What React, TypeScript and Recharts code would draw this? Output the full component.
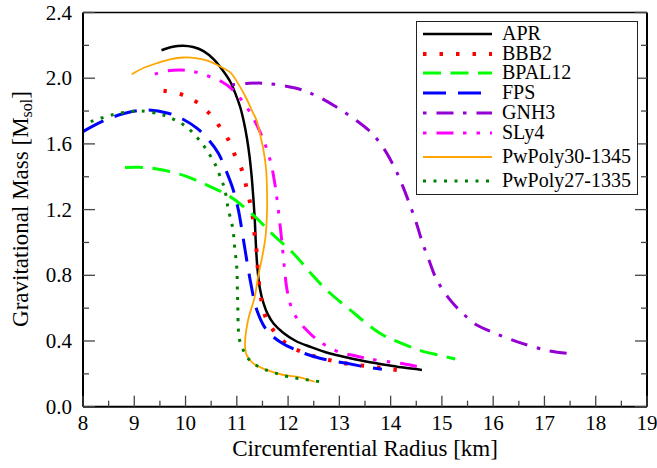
import { LineChart, Line, XAxis, YAxis } from 'recharts';

// mass-radius curves, radius in km, mass in solar masses
const APR = [
  { r: 9.53, m: 2.17 }, { r: 9.75, m: 2.192 }, { r: 9.95, m: 2.198 }, { r: 10.15, m: 2.19 },
  { r: 10.35, m: 2.165 }, { r: 10.55, m: 2.115 }, { r: 10.72, m: 2.05 }, { r: 10.87, m: 1.98 },
  { r: 10.98, m: 1.9 }, { r: 11.07, m: 1.82 }, { r: 11.14, m: 1.73 }, { r: 11.2, m: 1.63 },
  { r: 11.25, m: 1.52 }, { r: 11.29, m: 1.4 }, { r: 11.32, m: 1.28 }, { r: 11.35, m: 1.14 },
  { r: 11.37, m: 1.0 }, { r: 11.4, m: 0.85 }, { r: 11.45, m: 0.72 }, { r: 11.52, m: 0.63 },
  { r: 11.6, m: 0.565 }, { r: 11.72, m: 0.505 }, { r: 11.91, m: 0.449 }, { r: 12.15, m: 0.4 },
  { r: 12.43, m: 0.365 }, { r: 12.8, m: 0.325 }, { r: 13.21, m: 0.295 }, { r: 13.6, m: 0.27 },
  { r: 13.92, m: 0.254 }, { r: 14.25, m: 0.238 }, { r: 14.61, m: 0.224 },
];

const BBB2 = [
  { r: 9.57, m: 1.923 }, { r: 9.89, m: 1.904 }, { r: 10.18, m: 1.862 }, { r: 10.43, m: 1.797 },
  { r: 10.64, m: 1.716 }, { r: 10.83, m: 1.628 }, { r: 10.96, m: 1.533 }, { r: 11.1, m: 1.441 },
  { r: 11.18, m: 1.346 }, { r: 11.26, m: 1.239 }, { r: 11.32, m: 1.137 }, { r: 11.35, m: 1.035 },
  { r: 11.39, m: 0.934 }, { r: 11.41, m: 0.833 }, { r: 11.44, m: 0.731 }, { r: 11.49, m: 0.63 },
  { r: 11.58, m: 0.532 }, { r: 11.76, m: 0.447 }, { r: 12.0, m: 0.376 }, { r: 12.3, m: 0.329 },
  { r: 12.62, m: 0.298 }, { r: 12.95, m: 0.274 }, { r: 13.27, m: 0.256 }, { r: 13.6, m: 0.245 },
  { r: 13.92, m: 0.232 }, { r: 14.25, m: 0.219 },
];

const BPAL12 = [
  { r: 8.82, m: 1.456 }, { r: 9.08, m: 1.458 }, { r: 9.47, m: 1.446 }, { r: 9.99, m: 1.405 },
  { r: 10.48, m: 1.34 }, { r: 10.87, m: 1.279 }, { r: 11.32, m: 1.167 }, { r: 11.71, m: 1.046 },
  { r: 12.1, m: 0.934 }, { r: 12.45, m: 0.81 }, { r: 12.75, m: 0.711 }, { r: 13.21, m: 0.589 },
  { r: 13.79, m: 0.447 }, { r: 14.18, m: 0.39 }, { r: 14.6, m: 0.34 }, { r: 14.95, m: 0.313 },
  { r: 15.26, m: 0.29 },
];

const FPS = [
  { r: 8.0, m: 1.675 }, { r: 8.4, m: 1.74 }, { r: 8.8, m: 1.785 }, { r: 9.24, m: 1.807 },
  { r: 9.66, m: 1.787 }, { r: 9.95, m: 1.75 }, { r: 10.22, m: 1.696 }, { r: 10.45, m: 1.625 },
  { r: 10.64, m: 1.543 }, { r: 10.8, m: 1.43 }, { r: 10.92, m: 1.33 }, { r: 11.03, m: 1.198 },
  { r: 11.13, m: 1.015 }, { r: 11.26, m: 0.772 }, { r: 11.39, m: 0.589 }, { r: 11.58, m: 0.467 },
  { r: 11.84, m: 0.396 }, { r: 12.23, m: 0.335 }, { r: 12.62, m: 0.295 }, { r: 13.14, m: 0.264 },
  { r: 13.5, m: 0.243 }, { r: 13.83, m: 0.228 },
];

const GNH3 = [
  { r: 10.9, m: 1.96 }, { r: 11.2, m: 1.968 }, { r: 11.49, m: 1.97 }, { r: 11.9, m: 1.955 },
  { r: 12.27, m: 1.929 }, { r: 12.6, m: 1.885 }, { r: 12.98, m: 1.817 }, { r: 13.3, m: 1.75 },
  { r: 13.6, m: 1.675 }, { r: 13.85, m: 1.58 }, { r: 14.05, m: 1.472 }, { r: 14.2, m: 1.37 },
  { r: 14.36, m: 1.242 }, { r: 14.5, m: 1.12 }, { r: 14.61, m: 1.009 }, { r: 14.75, m: 0.89 },
  { r: 14.89, m: 0.778 }, { r: 15.16, m: 0.65 }, { r: 15.4, m: 0.57 }, { r: 15.68, m: 0.497 },
  { r: 16.04, m: 0.447 }, { r: 16.46, m: 0.396 }, { r: 17.08, m: 0.341 }, { r: 17.55, m: 0.321 },
];

const SLY4 = [
  { r: 9.4, m: 2.025 }, { r: 9.65, m: 2.045 }, { r: 9.93, m: 2.05 }, { r: 10.2, m: 2.037 },
  { r: 10.45, m: 2.012 }, { r: 10.7, m: 1.98 }, { r: 10.9, m: 1.935 }, { r: 11.19, m: 1.825 },
  { r: 11.45, m: 1.675 }, { r: 11.65, m: 1.502 }, { r: 11.75, m: 1.34 }, { r: 11.82, m: 1.17 },
  { r: 11.88, m: 1.0 }, { r: 11.93, m: 0.84 }, { r: 11.98, m: 0.71 }, { r: 12.07, m: 0.6 },
  { r: 12.2, m: 0.525 }, { r: 12.35, m: 0.47 }, { r: 12.5, m: 0.425 }, { r: 12.72, m: 0.376 },
  { r: 13.0, m: 0.332 }, { r: 13.3, m: 0.31 }, { r: 13.6, m: 0.29 }, { r: 14.0, m: 0.272 },
  { r: 14.25, m: 0.262 }, { r: 14.51, m: 0.245 },
];

const PWPOLY30 = [
  { r: 8.95, m: 2.024 }, { r: 9.2, m: 2.065 }, { r: 9.44, m: 2.091 }, { r: 9.7, m: 2.115 },
  { r: 9.96, m: 2.126 }, { r: 10.2, m: 2.122 }, { r: 10.41, m: 2.108 }, { r: 10.62, m: 2.08 },
  { r: 10.87, m: 2.035 }, { r: 11.02, m: 1.97 }, { r: 11.19, m: 1.875 }, { r: 11.3, m: 1.8 },
  { r: 11.39, m: 1.74 }, { r: 11.46, m: 1.65 }, { r: 11.52, m: 1.563 }, { r: 11.57, m: 1.45 },
  { r: 11.59, m: 1.3 }, { r: 11.59, m: 1.2 }, { r: 11.56, m: 1.035 }, { r: 11.5, m: 0.92 },
  { r: 11.42, m: 0.8 }, { r: 11.35, m: 0.67 }, { r: 11.22, m: 0.528 }, { r: 11.16, m: 0.386 },
  { r: 11.19, m: 0.315 }, { r: 11.32, m: 0.264 }, { r: 11.58, m: 0.224 }, { r: 11.91, m: 0.193 },
  { r: 12.23, m: 0.179 }, { r: 12.52, m: 0.152 },
];

const PWPOLY27 = [
  { r: 8.15, m: 1.736 }, { r: 8.56, m: 1.776 }, { r: 8.92, m: 1.797 }, { r: 9.14, m: 1.801 },
  { r: 9.5, m: 1.781 }, { r: 9.7, m: 1.76 }, { r: 9.89, m: 1.73 }, { r: 10.05, m: 1.696 },
  { r: 10.18, m: 1.655 }, { r: 10.32, m: 1.604 }, { r: 10.43, m: 1.553 }, { r: 10.54, m: 1.498 },
  { r: 10.62, m: 1.446 }, { r: 10.69, m: 1.387 }, { r: 10.76, m: 1.33 }, { r: 10.83, m: 1.208 },
  { r: 10.92, m: 1.087 }, { r: 10.96, m: 0.965 }, { r: 11.0, m: 0.843 }, { r: 11.01, m: 0.721 },
  { r: 11.02, m: 0.599 }, { r: 11.03, m: 0.471 }, { r: 11.05, m: 0.41 }, { r: 11.11, m: 0.356 },
  { r: 11.2, m: 0.301 }, { r: 11.35, m: 0.258 }, { r: 11.52, m: 0.23 }, { r: 11.71, m: 0.21 },
  { r: 11.91, m: 0.189 }, { r: 12.1, m: 0.177 }, { r: 12.3, m: 0.167 }, { r: 12.49, m: 0.158 },
  { r: 12.69, m: 0.149 },
];

const X_TICKS = [8, 8.5, 9, 9.5, 10, 10.5, 11, 11.5, 12, 12.5, 13, 13.5, 14, 14.5, 15, 15.5, 16, 16.5, 17, 17.5, 18, 18.5, 19];
const Y_TICKS = [0, 0.2, 0.4, 0.6, 0.8, 1.0, 1.2, 1.4, 1.6, 1.8, 2.0, 2.2, 2.4];

const SERIES = [
  { name: 'APR', data: APR, color: '#000000', width: 2.5, dash: undefined, gap: 0 },
  { name: 'BBB2', data: BBB2, color: '#ff0000', width: 4, dash: '3.5 13', gap: 0 },
  { name: 'BPAL12', data: BPAL12, color: '#00ff00', width: 3, dash: '18 9.5', gap: 0 },
  { name: 'FPS', data: FPS, color: '#0000ff', width: 3, dash: '23 12', gap: 0 },
  { name: 'GNH3', data: GNH3, color: '#9400d3', width: 3, dash: '3.5 10 17 9.5', gap: 0 },
  { name: 'SLy4', data: SLY4, color: '#ff00ff', width: 3, dash: '3.5 10 17 9.5 3.5 10', gap: 0 },
  { name: 'PwPoly30-1345', data: PWPOLY30, color: '#ffa500', width: 1.8, dash: undefined, gap: 5 },
  { name: 'PwPoly27-1335', data: PWPOLY27, color: '#008000', width: 3, dash: '3 7.5', gap: 4.5 },
];

const FONT = '"Liberation Serif", "Times New Roman", serif';
const TICK = '#444';

// centripetal catmull-rom, works for curves that fold back in x
function catmullRom(context: any) {
  let pts: number[][] = [];
  return {
    areaStart() {},
    areaEnd() {},
    lineStart() { pts = []; },
    point(x: number, y: number) { pts.push([+x, +y]); },
    lineEnd() {
      const n = pts.length;
      if (!n) return;
      context.moveTo(pts[0][0], pts[0][1]);
      for (let i = 0; i < n - 1; i++) {
        const p0 = pts[Math.max(i - 1, 0)];
        const p1 = pts[i];
        const p2 = pts[i + 1];
        const p3 = pts[Math.min(i + 2, n - 1)];
        const d01 = Math.hypot(p1[0] - p0[0], p1[1] - p0[1]);
        const d12 = Math.hypot(p2[0] - p1[0], p2[1] - p1[1]);
        const d23 = Math.hypot(p3[0] - p2[0], p3[1] - p2[1]);
        const l01 = Math.sqrt(d01), l12 = Math.sqrt(d12), l23 = Math.sqrt(d23);
        let c1 = [p1[0], p1[1]];
        let c2 = [p2[0], p2[1]];
        if (l01 > 1e-9) {
          const a = 2 * d01 + 3 * l01 * l12 + d12;
          const m = 3 * l01 * (l01 + l12);
          c1 = [(p1[0] * a - p0[0] * d12 + p2[0] * d01) / m, (p1[1] * a - p0[1] * d12 + p2[1] * d01) / m];
        }
        if (l23 > 1e-9) {
          const b = 2 * d23 + 3 * l23 * l12 + d12;
          const m = 3 * l23 * (l23 + l12);
          c2 = [(p2[0] * b + p1[0] * d23 - p3[0] * d12) / m, (p2[1] * b + p1[1] * d23 - p3[1] * d12) / m];
        }
        context.bezierCurveTo(c1[0], c1[1], c2[0], c2[1], p2[0], p2[1]);
      }
    },
  };
}

function BottomTick({ x, y, payload }: any) {
  const major = Number.isInteger(payload.value);
  return (
    <g>
      <line x1={x} x2={x} y1={y} y2={y - (major ? 11 : 6)} stroke={TICK} strokeWidth={1.3} />
      {major && (
        <text x={x} y={y + 23} textAnchor="middle" fontFamily={FONT} fontSize={21} fill="#000">
          {payload.value}
        </text>
      )}
    </g>
  );
}

function TopTick({ x, y, payload }: any) {
  const major = Number.isInteger(payload.value);
  return <line x1={x} x2={x} y1={y} y2={y + (major ? 11 : 6)} stroke={TICK} strokeWidth={1.3} />;
}

function LeftTick({ x, y, payload }: any) {
  const major = Math.round(payload.value * 10) % 4 === 0;
  return (
    <g>
      <line x1={x} x2={x + (major ? 12 : 6)} y1={y} y2={y} stroke={TICK} strokeWidth={1.3} />
      {major && (
        <text x={x - 11} y={y + 7} textAnchor="end" fontFamily={FONT} fontSize={21} fill="#000">
          {payload.value.toFixed(1)}
        </text>
      )}
    </g>
  );
}

function RightTick({ x, y, payload }: any) {
  const major = Math.round(payload.value * 10) % 4 === 0;
  return <line x1={x} x2={x - (major ? 12 : 6)} y1={y} y2={y} stroke={TICK} strokeWidth={1.3} />;
}

function MassRadiusLegend() {
  let top = 0;
  return (
    <div
      style={{
        position: 'absolute', left: 416, top: 21, width: 222, height: 174,
        border: '1px solid #222', background: '#fff', boxSizing: 'border-box',
        fontFamily: FONT, fontSize: 20, color: '#000',
      }}
    >
      {SERIES.map((s) => {
        top += s.gap;
        const rowTop = top;
        top += 19.7;
        return (
          <div key={s.name} style={{ position: 'absolute', left: 0, top: rowTop + 2, height: 19, width: 220 }}>
            <svg width={76} height={19} style={{ position: 'absolute', left: 0, top: 0 }}>
              <line x1={6} x2={75} y1={10} y2={10} stroke={s.color} strokeWidth={s.width} strokeDasharray={s.dash} />
            </svg>
            <span style={{ position: 'absolute', left: 85, top: 0, height: 19, lineHeight: '19px', whiteSpace: 'nowrap' }}>{s.name}</span>
          </div>
        );
      })}
    </div>
  );
}

export default function App() {
  return (
    <div style={{ position: 'absolute', left: 0, top: 0, width: 657, height: 468, background: '#fff' }}>
      <LineChart width={657} height={468} margin={{ top: 11.5, right: 9, left: 82, bottom: 60.3 }}>
        <XAxis
          xAxisId="b" dataKey="r" type="number" domain={[8, 19]} ticks={X_TICKS} interval={0}
          height={1} tickSize={0} tickMargin={0} tickLine={false} tick={<BottomTick />}
          axisLine={{ stroke: '#000', strokeWidth: 2 }} allowDataOverflow
        />
        <XAxis
          xAxisId="t" orientation="top" type="number" domain={[8, 19]} ticks={X_TICKS} interval={0}
          height={1} tickSize={0} tickMargin={0} tickLine={false} tick={<TopTick />}
          axisLine={{ stroke: '#000', strokeWidth: 1.5 }} allowDataOverflow
        />
        <YAxis
          yAxisId="l" type="number" domain={[0, 2.4]} ticks={Y_TICKS} interval={0}
          width={1} tickSize={0} tickMargin={0} tickLine={false} tick={<LeftTick />}
          axisLine={{ stroke: '#000', strokeWidth: 2 }} allowDataOverflow
        />
        <YAxis
          yAxisId="r" orientation="right" type="number" domain={[0, 2.4]} ticks={Y_TICKS} interval={0}
          width={1} tickSize={0} tickMargin={0} tickLine={false} tick={<RightTick />}
          axisLine={{ stroke: '#000', strokeWidth: 2 }} allowDataOverflow
        />
        {SERIES.map((s) => (
          <Line
            key={s.name}
            xAxisId="b"
            yAxisId="l"
            data={s.data}
            dataKey="m"
            name={s.name}
            type={catmullRom as any}
            stroke={s.color}
            strokeWidth={s.width}
            strokeDasharray={s.dash}
            dot={false}
            activeDot={false}
            isAnimationActive={false}
          />
        ))}
      </LineChart>
      <MassRadiusLegend />
      <svg width={657} height={468} style={{ position: 'absolute', left: 0, top: 0, pointerEvents: 'none' }}>
        <text x={365} y={456} textAnchor="middle" fontFamily={FONT} fontSize={23} fill="#000">
          Circumferential Radius [km]
        </text>
        <text transform="translate(28,209) rotate(-90)" textAnchor="middle" fontFamily={FONT} fontSize={23} fill="#000">
          Gravitational Mass [M<tspan fontSize={16} dy={4}>sol</tspan><tspan dy={-4}>]</tspan>
        </text>
      </svg>
    </div>
  );
}
